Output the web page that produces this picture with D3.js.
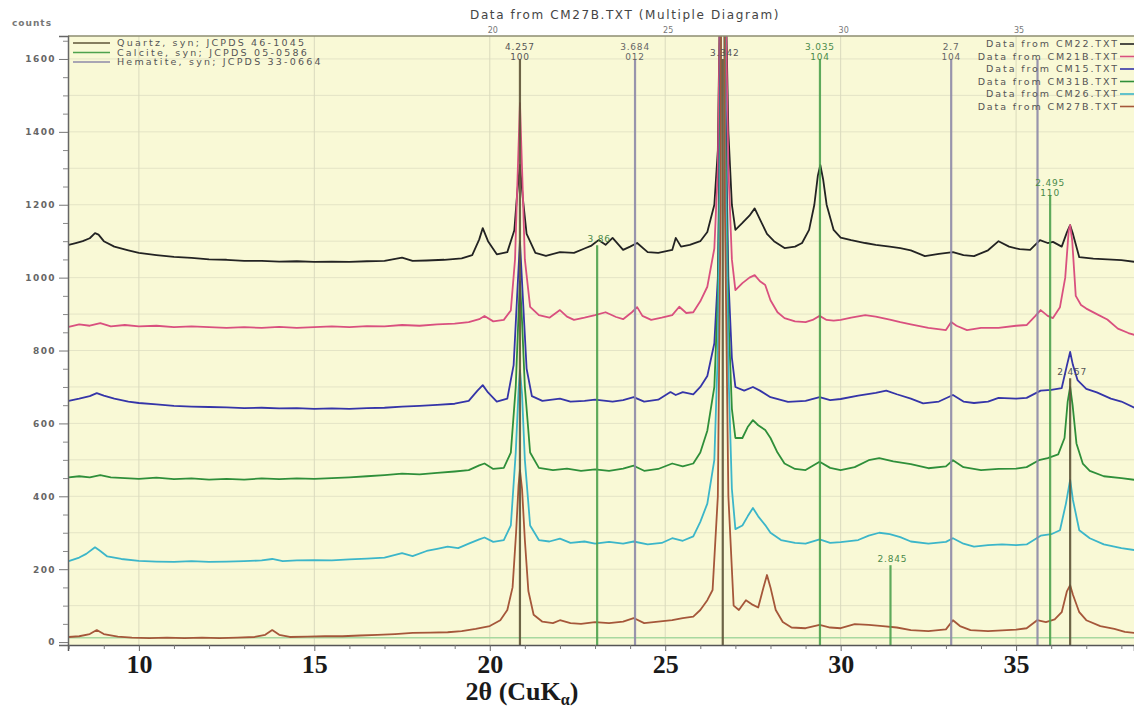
<!DOCTYPE html>
<html>
<head>
<meta charset="utf-8">
<script src="https://cdn.jsdelivr.net/npm/d3@7/dist/d3.min.js"></script>
<style>
  html, body { margin: 0; padding: 0; background: #ffffff; }
  svg { display: block; }
</style>
</head>
<body>
<svg id="chart" width="1134" height="727"></svg>
<script>
// ---- scan data: [2theta (deg), counts] as plotted (stacked offsets included) ----
const scanCM22 = [[8.0,1090],[8.2,1095],[8.4,1100],[8.6,1108],[8.75,1122],[8.85,1118],[9.0,1100],[9.3,1085],[9.7,1075],[10.0,1068],[10.5,1062],[11,1057],[11.5,1054],[12,1050],[12.5,1049],[13,1046],[13.5,1046],[14,1044],[14.5,1045],[15,1043],[15.5,1044],[16,1043],[16.5,1045],[17,1046],[17.5,1055],[17.8,1046],[18.2,1047],[18.7,1049],[19.2,1053],[19.5,1062],[19.7,1105],[19.8,1136],[19.95,1100],[20.2,1064],[20.5,1070],[20.7,1130],[20.78,1230],[20.86,1309],[20.94,1220],[21.05,1120],[21.3,1068],[21.6,1060],[22.0,1070],[22.4,1068],[22.7,1080],[22.9,1088],[23.1,1103],[23.3,1090],[23.5,1109],[23.8,1076],[24.0,1085],[24.2,1095],[24.5,1070],[24.8,1068],[25.2,1076],[25.3,1109],[25.45,1085],[25.7,1090],[26.0,1100],[26.2,1125],[26.4,1200],[26.5,1350],[26.58,1900],[26.64,4000],[26.7,1900],[26.8,1400],[26.9,1200],[27.0,1131],[27.2,1150],[27.4,1170],[27.55,1190],[27.7,1160],[27.9,1120],[28.1,1100],[28.4,1081],[28.7,1085],[28.9,1095],[29.1,1131],[29.25,1200],[29.35,1280],[29.42,1309],[29.5,1270],[29.6,1200],[29.8,1131],[30.0,1110],[30.3,1103],[30.7,1095],[31.0,1090],[31.4,1085],[31.7,1081],[32.0,1075],[32.4,1059],[32.8,1065],[33.2,1070],[33.5,1062],[33.8,1059],[34.2,1075],[34.5,1100],[34.8,1085],[35.1,1078],[35.4,1076],[35.68,1103],[35.9,1095],[36.05,1098],[36.3,1085],[36.45,1125],[36.54,1144],[36.62,1120],[36.8,1056],[37.2,1052],[37.6,1050],[38.0,1048],[38.4,1043]];

const scanCM21B = [[8.0,865],[8.3,872],[8.6,868],[8.9,875],[9.2,866],[9.6,870],[10,866],[10.5,868],[11,864],[11.5,866],[12,864],[12.5,862],[13,864],[13.5,862],[14,865],[14.5,862],[15,864],[15.5,866],[16,864],[16.5,867],[17,866],[17.5,870],[18,868],[18.5,872],[19,874],[19.4,878],[19.7,886],[19.85,895],[20.1,880],[20.4,884],[20.6,910],[20.72,1050],[20.8,1300],[20.86,1479],[20.92,1300],[21.0,1050],[21.15,920],[21.4,897],[21.7,890],[22.0,911],[22.2,893],[22.4,884],[22.7,890],[23.0,897],[23.3,905],[23.6,892],[23.8,886],[24.05,905],[24.2,919],[24.35,895],[24.6,884],[24.9,890],[25.2,897],[25.4,920],[25.6,903],[25.8,905],[26.0,935],[26.2,975],[26.4,1080],[26.5,1300],[26.58,1900],[26.64,4000],[26.7,1900],[26.8,1300],[26.9,1050],[27.0,966],[27.2,985],[27.4,1000],[27.55,1007],[27.7,990],[27.85,980],[28.0,938],[28.2,905],[28.4,889],[28.7,880],[29.0,878],[29.2,884],[29.4,895],[29.6,884],[29.8,882],[30.0,884],[30.3,890],[30.7,897],[31.0,893],[31.4,885],[31.7,878],[32.0,872],[32.5,862],[33.0,856],[33.15,878],[33.3,868],[33.6,856],[34.0,862],[34.5,862],[35.0,868],[35.3,870],[35.55,895],[35.7,911],[35.9,895],[36.05,889],[36.25,919],[36.4,1000],[36.5,1130],[36.54,1144],[36.6,1100],[36.7,950],[36.85,925],[37.0,915],[37.3,900],[37.6,885],[37.9,860],[38.2,848],[38.4,842]];

const scanCM15 = [[8.0,662],[8.3,668],[8.6,675],[8.8,683],[9.0,676],[9.3,668],[9.7,660],[10,656],[10.5,652],[11,648],[11.5,646],[12,645],[12.5,644],[13,642],[13.5,643],[14,641],[14.5,642],[15,640],[15.5,641],[16,640],[16.5,642],[17,643],[17.5,646],[18,648],[18.5,651],[19,654],[19.4,662],[19.65,690],[19.8,705],[19.95,685],[20.2,660],[20.5,668],[20.68,760],[20.78,950],[20.86,1100],[20.94,950],[21.05,750],[21.2,675],[21.5,662],[22.0,668],[22.3,660],[22.7,662],[23.0,665],[23.5,660],[23.8,664],[24.1,672],[24.4,660],[24.8,665],[25.15,686],[25.3,678],[25.5,686],[25.8,680],[26.0,700],[26.2,730],[26.4,820],[26.5,1000],[26.58,1600],[26.64,4000],[26.7,1600],[26.8,1000],[26.9,780],[27.0,700],[27.25,690],[27.5,700],[27.7,690],[28.0,672],[28.5,659],[29.0,662],[29.4,672],[29.7,664],[30.0,667],[30.5,676],[31.0,684],[31.3,690],[31.6,680],[32.0,668],[32.35,655],[32.8,660],[33.2,678],[33.5,660],[33.8,656],[34.2,660],[34.5,670],[35.0,668],[35.3,670],[35.7,690],[36.0,692],[36.3,697],[36.45,760],[36.54,796],[36.62,760],[36.75,719],[37.0,695],[37.3,685],[37.7,668],[38.0,660],[38.4,642]];

const scanCM31B = [[8.0,452],[8.3,455],[8.6,452],[8.9,458],[9.2,452],[9.6,450],[10,448],[10.5,451],[11,447],[11.5,449],[12,446],[12.5,448],[13,446],[13.5,449],[14,447],[14.5,449],[15,448],[15.5,450],[16,452],[16.5,455],[17,458],[17.5,462],[18,460],[18.5,464],[19,468],[19.4,472],[19.7,485],[19.85,490],[20.1,475],[20.4,478],[20.6,520],[20.74,700],[20.82,900],[20.86,990],[20.92,880],[21.0,700],[21.15,520],[21.4,478],[21.8,472],[22.2,476],[22.6,470],[23.0,474],[23.4,470],[23.8,476],[24.1,484],[24.4,470],[24.8,475],[25.2,490],[25.5,482],[25.8,490],[26.0,520],[26.2,580],[26.4,700],[26.5,950],[26.58,1500],[26.64,4000],[26.7,1500],[26.8,900],[26.9,640],[27.0,560],[27.2,560],[27.35,590],[27.5,609],[27.65,595],[27.85,582],[28.0,560],[28.2,520],[28.4,490],[28.7,475],[29.0,472],[29.4,495],[29.7,478],[30.0,472],[30.4,480],[30.8,499],[31.1,505],[31.5,496],[32.0,488],[32.5,477],[33.0,482],[33.2,499],[33.5,480],[34.0,472],[34.5,475],[35.0,476],[35.3,480],[35.65,499],[35.9,505],[36.2,515],[36.38,560],[36.47,660],[36.54,700],[36.61,650],[36.72,545],[36.9,490],[37.1,470],[37.5,455],[38.0,450],[38.4,445]];

const scanCM26 = [[8.0,222],[8.3,232],[8.5,242],[8.75,260],[8.9,250],[9.1,235],[9.5,228],[10,223],[10.5,221],[11,220],[11.5,222],[12,220],[12.5,221],[13,222],[13.5,224],[13.8,228],[14.1,222],[14.5,224],[15,225],[15.5,224],[16,227],[16.5,229],[17,232],[17.5,244],[17.8,236],[18.2,250],[18.5,256],[18.8,262],[19.1,258],[19.4,270],[19.7,282],[19.85,287],[20.1,275],[20.4,280],[20.6,320],[20.74,520],[20.82,690],[20.86,746],[20.92,680],[21.0,500],[21.15,320],[21.4,280],[21.7,276],[22.0,284],[22.3,272],[22.7,276],[23.0,270],[23.4,275],[23.8,270],[24.1,276],[24.5,268],[24.9,272],[25.2,285],[25.5,278],[25.8,290],[26.0,330],[26.2,380],[26.4,500],[26.5,800],[26.58,1400],[26.64,4000],[26.7,1400],[26.8,750],[26.9,420],[27.0,310],[27.2,320],[27.35,345],[27.5,368],[27.65,345],[27.85,321],[28.0,300],[28.3,280],[28.7,272],[29.0,270],[29.4,282],[29.7,272],[30.0,274],[30.5,280],[30.8,292],[31.1,300],[31.4,296],[31.7,288],[32.0,276],[32.5,270],[33.0,275],[33.2,285],[33.5,270],[33.8,262],[34.2,266],[34.6,268],[35.0,266],[35.3,268],[35.7,292],[36.0,296],[36.25,307],[36.42,380],[36.54,445],[36.62,390],[36.8,307],[37.1,285],[37.5,268],[38.0,258],[38.4,252]];

const scanCM27B = [[8.0,14],[8.3,16],[8.6,22],[8.8,33],[9.0,22],[9.4,15],[9.8,12],[10.3,11],[10.8,12],[11.3,11],[11.8,12],[12.3,11],[12.8,12],[13.3,14],[13.6,20],[13.8,33],[14.0,20],[14.3,14],[14.8,15],[15.3,16],[15.8,16],[16.3,18],[16.8,20],[17.3,22],[17.8,25],[18.3,26],[18.8,27],[19.2,30],[19.6,36],[20.0,44],[20.3,60],[20.5,88],[20.65,150],[20.75,300],[20.82,430],[20.86,472],[20.92,420],[21.0,280],[21.1,140],[21.25,75],[21.5,56],[21.8,52],[22.0,60],[22.3,52],[22.6,50],[23.0,55],[23.4,52],[23.8,56],[24.1,66],[24.4,52],[24.8,56],[25.2,60],[25.5,66],[25.8,70],[26.0,88],[26.2,115],[26.35,143],[26.5,400],[26.58,1200],[26.64,4000],[26.7,1200],[26.8,400],[26.95,100],[27.1,88],[27.3,115],[27.5,102],[27.65,95],[27.8,150],[27.9,184],[28.0,150],[28.15,88],[28.35,55],[28.6,40],[29.0,38],[29.4,47],[29.7,40],[30.0,38],[30.4,49],[30.8,47],[31.2,44],[31.6,40],[32.0,33],[32.5,30],[33.0,35],[33.2,60],[33.4,44],[33.7,33],[34.2,30],[34.6,32],[35.0,34],[35.3,38],[35.6,60],[35.85,55],[36.1,62],[36.3,82],[36.45,140],[36.54,156],[36.62,130],[36.8,82],[37.0,60],[37.4,44],[37.8,36],[38.1,28],[38.4,25]];

const scanNames  = ["Data from CM22.TXT", "Data from CM21B.TXT", "Data from CM15.TXT",
                    "Data from CM31B.TXT", "Data from CM26.TXT", "Data from CM27B.TXT"];
const scanColors = ["#232323", "#d9507f", "#3535a8", "#2f8f3a", "#3cb6c9", "#a5573a"];
const scans = [scanCM22, scanCM21B, scanCM15, scanCM31B, scanCM26, scanCM27B];

// ---- reference patterns (stick lines): position, d-spacing, hkl, stick top (counts) ----
const quartzPos   = [20.86, 26.64, 36.54];
const quartzD     = ["4.257", "3.342", "2.457"];
const quartzHkl   = ["100", "", ""];
const quartzTop   = [1600, 1600, 724];

const calcitePos  = [23.06, 29.41, 31.42, 35.97];
const calciteD    = ["3.86", "3.035", "2.845", "2.495"];
const calciteHkl  = ["", "104", "", "110"];
const calciteTop  = [1089, 1600, 211, 1227];

const hematitePos = [24.14, 33.15, 35.61];
const hematiteD   = ["3.684", "2.7", ""];
const hematiteHkl = ["012", "104", ""];
const hematiteTop = [1600, 1600, 1600];

const refNames  = ["Quartz, syn; JCPDS 46-1045", "Calcite, syn; JCPDS 05-0586", "Hematite, syn; JCPDS 33-0664"];
const refColors = ["#5e5438", "#4ea24e", "#8e8aa8"];

// ---- axis ticks ----
const xTickLabels = [10, 15, 20, 25, 30, 35];
const yTickLabels = [0, 200, 400, 600, 800, 1000, 1200, 1400, 1600];

// ---- layout ----
const W = 1134, H = 727;
const plot = { left: 68, right: 1134, top: 36, bottom: 645 };

const svg = d3.select("#chart");
const x = d3.scaleLinear().domain([7.98, 38.36]).range([plot.left, plot.right]);
const y = d3.scaleLinear().domain([-8, 1663]).range([plot.bottom, plot.top]);

svg.append("rect").attr("width", W).attr("height", H).attr("fill", "#ffffff");

// plot background
svg.append("rect")
  .attr("x", plot.left).attr("y", plot.top)
  .attr("width", plot.right - plot.left).attr("height", plot.bottom - plot.top)
  .attr("fill", "#f9f9d6");

svg.append("defs").append("clipPath").attr("id", "plotClip")
  .append("rect")
  .attr("x", plot.left).attr("y", plot.top)
  .attr("width", plot.right - plot.left).attr("height", plot.bottom - plot.top);

// grid
const grid = svg.append("g").attr("clip-path", "url(#plotClip)");
grid.selectAll("line.hg").data(d3.range(100, 1700, 100)).join("line")
  .attr("class", "hg")
  .attr("x1", plot.left).attr("x2", plot.right)
  .attr("y1", d => y(d)).attr("y2", d => y(d))
  .attr("stroke", "#e4e4c6").attr("stroke-width", 1);
grid.selectAll("line.vg").data(xTickLabels).join("line")
  .attr("class", "vg")
  .attr("x1", d => x(d)).attr("x2", d => x(d))
  .attr("y1", plot.top).attr("y2", plot.bottom)
  .attr("stroke", "#dadabd").attr("stroke-width", 1);

// stick pattern baseline
grid.append("line")
  .attr("x1", plot.left).attr("x2", plot.right)
  .attr("y1", y(12)).attr("y2", y(12))
  .attr("stroke", "#a8d8a0").attr("stroke-width", 1.5);

// scans
const line = d3.line().x(d => x(d[0])).y(d => y(d[1]));
const scanG = svg.append("g").attr("clip-path", "url(#plotClip)");
scans.forEach((s, i) => {
  scanG.append("path")
    .datum(s)
    .attr("d", line)
    .attr("fill", "none")
    .attr("stroke", scanColors[i])
    .attr("stroke-width", 1.8)
    .attr("stroke-linejoin", "round");
});

// reference sticks
const sticks = [];
quartzPos.forEach((p, i) => sticks.push({ pos: p, d: quartzD[i], hkl: quartzHkl[i], top: quartzTop[i], color: refColors[0], text: "#555" }));
calcitePos.forEach((p, i) => sticks.push({ pos: p, d: calciteD[i], hkl: calciteHkl[i], top: calciteTop[i], color: refColors[1], text: "#4a8a4a" }));
hematitePos.forEach((p, i) => sticks.push({ pos: p, d: hematiteD[i], hkl: hematiteHkl[i], top: hematiteTop[i], color: refColors[2], text: "#666" }));

const stickG = svg.append("g").attr("clip-path", "url(#plotClip)");
stickG.selectAll("line").data(sticks).join("line")
  .attr("x1", d => x(d.pos)).attr("x2", d => x(d.pos))
  .attr("y1", y(-8)).attr("y2", d => y(d.top))
  .attr("stroke", d => d.color).attr("stroke-width", 2.2).attr("opacity", 0.9);

const lblFont = "'DejaVu Sans', sans-serif";
sticks.forEach(s => {
  const top = y(s.top);
  if (s.hkl) {
    svg.append("text").attr("x", x(s.pos)).attr("y", top - 9).attr("text-anchor", "middle")
      .attr("font-family", lblFont).attr("font-size", 9).attr("letter-spacing", 0.8)
      .attr("fill", s.text).text(s.d);
    svg.append("text").attr("x", x(s.pos)).attr("y", top + 1).attr("text-anchor", "middle")
      .attr("font-family", lblFont).attr("font-size", 9).attr("letter-spacing", 0.8)
      .attr("fill", s.text).text(s.hkl);
  } else if (s.d) {
    svg.append("text").attr("x", x(s.pos) + 2).attr("y", top - 3).attr("text-anchor", "middle")
      .attr("font-family", lblFont).attr("font-size", 9).attr("letter-spacing", 0.8)
      .attr("fill", s.text).text(s.d);
  }
});

// frame: top border
svg.append("line").attr("x1", plot.left).attr("x2", plot.right)
  .attr("y1", plot.top).attr("y2", plot.top).attr("stroke", "#8c8c70").attr("stroke-width", 1.5);

// top small labels
svg.selectAll("text.toplab").data(xTickLabels.filter(v => v >= 20)).join("text")
  .attr("class", "toplab")
  .attr("x", d => x(d) + 3).attr("y", plot.top - 3)
  .attr("text-anchor", "middle")
  .attr("font-family", lblFont).attr("font-size", 8).attr("fill", "#777")
  .text(d => d);

// y axis
const yAxis = d3.axisLeft(y).tickValues(yTickLabels).tickSize(9).tickPadding(3).tickFormat(d3.format("d"));
const yG = svg.append("g").attr("transform", `translate(${plot.left},0)`).call(yAxis);
yG.select(".domain").attr("stroke", "#666").attr("stroke-width", 1.5);
yG.selectAll(".tick line").attr("stroke", "#777");
yG.selectAll(".tick text")
  .attr("font-family", lblFont).attr("font-size", 9).attr("font-weight", "bold")
  .attr("letter-spacing", 1.4).attr("fill", "#666");
const yMinor = d3.axisLeft(y).tickValues(d3.range(50, 1663, 50).filter(v => v % 200 !== 0)).tickSize(5).tickFormat("");
const yMG = svg.append("g").attr("transform", `translate(${plot.left},0)`).call(yMinor);
yMG.select(".domain").remove();
yMG.selectAll(".tick line").attr("stroke", "#888");

// x axis
const xAxis = d3.axisBottom(x).tickValues(xTickLabels).tickSize(6).tickPadding(4).tickFormat(d3.format("d"));
const xG = svg.append("g").attr("transform", `translate(0,${plot.bottom})`).call(xAxis);
xG.select(".domain").attr("stroke", "#555").attr("stroke-width", 1.5);
xG.selectAll(".tick line").attr("stroke", "#666");
xG.selectAll(".tick text")
  .attr("font-family", "'Liberation Serif', 'Times New Roman', serif")
  .attr("font-size", 26).attr("font-weight", "bold").attr("fill", "#1a1a1a");
const xMinor = d3.axisBottom(x).tickValues(d3.range(8, 39, 1).filter(v => v % 5 !== 0)).tickSize(4).tickFormat("");
const xMG = svg.append("g").attr("transform", `translate(0,${plot.bottom})`).call(xMinor);
xMG.select(".domain").remove();
xMG.selectAll(".tick line").attr("stroke", "#777");

// axis title: 2θ (CuKα)
const xt = svg.append("text")
  .attr("x", 522).attr("y", 700).attr("text-anchor", "middle")
  .attr("font-family", "'Liberation Serif', 'Times New Roman', serif")
  .attr("font-size", 26).attr("font-weight", "bold").attr("fill", "#1a1a1a");
xt.append("tspan").text("2θ (CuK");
xt.append("tspan").attr("font-size", 16).attr("dy", 5).text("α");
xt.append("tspan").attr("dy", -5).text(")");

// "counts" label and chart title
svg.append("text").attr("x", 12).attr("y", 26)
  .attr("font-family", lblFont).attr("font-size", 9).attr("font-weight", "bold")
  .attr("letter-spacing", 1).attr("fill", "#777").text("counts");
svg.append("text").attr("x", 625).attr("y", 19).attr("text-anchor", "middle")
  .attr("font-family", lblFont).attr("font-size", 12)
  .attr("letter-spacing", 1.6).attr("fill", "#444")
  .text("Data from CM27B.TXT (Multiple Diagram)");

// reference legend (top left)
refNames.forEach((n, i) => {
  const yy = 43 + i * 9.5;
  svg.append("line").attr("x1", 73).attr("x2", 110).attr("y1", yy).attr("y2", yy)
    .attr("stroke", refColors[i]).attr("stroke-width", 1.6);
  svg.append("text").attr("x", 117).attr("y", yy + 3)
    .attr("font-family", lblFont).attr("font-size", 9.5).attr("letter-spacing", 2.2)
    .attr("fill", "#555").text(n);
});

// scan legend (top right)
scanNames.forEach((n, i) => {
  const yy = 44 + i * 12.5;
  svg.append("text").attr("x", 1119).attr("y", yy + 3).attr("text-anchor", "end")
    .attr("font-family", lblFont).attr("font-size", 9.5).attr("letter-spacing", 1.9)
    .attr("fill", "#555").text(n);
  svg.append("line").attr("x1", 1120).attr("x2", 1134).attr("y1", yy).attr("y2", yy)
    .attr("stroke", scanColors[i]).attr("stroke-width", 1.6);
});
</script>
</body>
</html>
